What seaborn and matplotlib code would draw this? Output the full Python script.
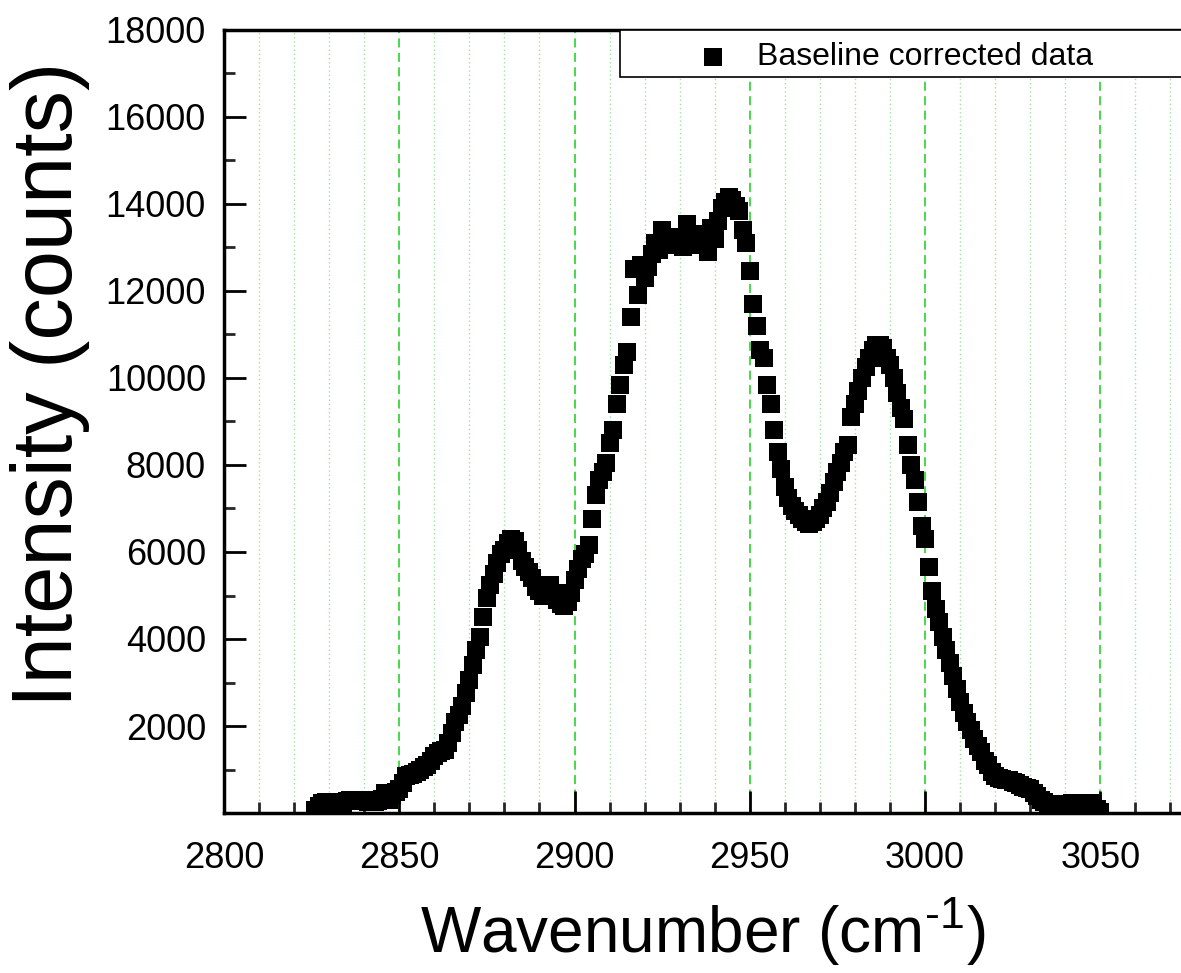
import numpy as np
import pandas as pd
import matplotlib
matplotlib.use("Agg")
import matplotlib.pyplot as plt
import seaborn as sns
from matplotlib.ticker import MultipleLocator, FuncFormatter
from matplotlib.patches import Rectangle

# spectrum, one point per cm-1 from 2826 to 3050
wavenumber = list(range(2826, 3051))
intensity = [
    80, 150, 230, 260, 250, 240, 200, 170, 220, 280,            # 2826
    290, 300, 280, 300, 290, 260, 300, 250, 280, 320,           # 2836
    450, 300, 420, 480, 550, 700, 850, 880, 900, 950,           # 2846
    1000, 1050, 1100, 1200, 1300, 1380, 1420, 1450, 1600, 1850, # 2856
    2100, 2250, 2450, 2750, 3050, 3400, 3750, 4050, 4500, 4950, # 2866
    5250, 5500, 5750, 5950, 6050, 6200, 6300, 6250, 6050, 5800, # 2876
    5650, 5550, 5400, 5200, 5100, 5000, 5150, 5250, 5050, 4900, # 2886
    4800, 4750, 4850, 5050, 5350, 5600, 5850, 5950, 6150, 6750, # 2896
    7300, 7650, 7850, 8050, 8500, 8800, 9400, 9850, 10300, 10600,        # 2906
    11400, 12500, 11900, 12600, 12300, 12550, 12850, 13100, 12950, 13400, # 2916
    13200, 13100, 13050, 13200, 13250, 13000, 13550, 13150, 13100, 13050, # 2926
    13300, 13050, 12900, 13450, 13200, 13600, 13900, 14050, 14150, 14100, # 2936
    13950, 13850, 13400, 13100, 12450, 11700, 11200, 10650, 10450, 9850,  # 2946
    9400, 8800, 8300, 7900, 7500, 7250, 7050, 6950, 6850, 6750, # 2956
    6700, 6650, 6700, 6750, 6850, 7000, 7150, 7350, 7600, 7850, # 2966
    8050, 8300, 8450, 9100, 9400, 9700, 10000, 10250, 10450, 10650,  # 2976
    10750, 10750, 10700, 10450, 10300, 10000, 9650, 9300, 9050, 8450, # 2986
    8000, 7650, 7150, 6600, 6300, 5650, 5100, 4700, 4400, 4050, # 2996
    3750, 3450, 3150, 2850, 2550, 2300, 2100, 1900, 1700, 1550, # 3006
    1400, 1200, 1100, 950, 850, 800, 780, 760, 750, 720,        # 3016
    700, 650, 600, 580, 560, 450, 380, 300, 250, 200,           # 3026
    200, 180, 150, 120, 150, 200, 220, 240, 230, 220,           # 3036
    240, 230, 200, 100, 30,                                     # 3046
]
legend_label = "Baseline corrected data"

sns.set_style("ticks")
plt.rcParams['font.family'] = ['Liberation Sans', 'DejaVu Sans']
plt.rcParams['mathtext.fontset'] = 'custom'
plt.rcParams['mathtext.rm'] = 'Liberation Sans'
plt.rcParams['mathtext.it'] = 'Liberation Sans:italic'
plt.rcParams['text.color'] = 'black'
plt.rcParams['axes.labelcolor'] = 'black'

df = pd.DataFrame({"wavenumber": wavenumber, "intensity": intensity})

W, H = 1181, 973
fig = plt.figure(figsize=(W / 100, H / 100), dpi=100)
ax = fig.add_axes([224 / W, 1 - 813 / H, 1 - 224 / W, (813 - 30) / H])

sns.scatterplot(data=df, x="wavenumber", y="intensity", marker="s", s=150,
                color="black", linewidth=0, label=legend_label, ax=ax, zorder=3)

ax.set_xlim(2800, 3073)
ax.set_ylim(0, 18000)
ax.xaxis.set_major_locator(MultipleLocator(50))
ax.xaxis.set_minor_locator(MultipleLocator(10))
ax.yaxis.set_major_locator(MultipleLocator(2000))
ax.yaxis.set_minor_locator(MultipleLocator(1000))
ax.yaxis.set_major_formatter(FuncFormatter(lambda v, p: "" if v == 0 else f"{int(v)}"))

# vertical grid only, dashed on major, dotted on minor
ax.set_axisbelow(True)
ax.grid(which="major", axis="x", color="#3ad43a", linestyle=(0, (5, 3)), linewidth=1.3)
ax.grid(which="minor", axis="x", color="#9de39d", linestyle=(0, (1, 2)), linewidth=1.0)
ax.grid(which="both", axis="y", visible=False)

ax.tick_params(which="major", direction="in", length=16, width=2, labelsize=26,
               colors="black", top=False, right=False)
ax.tick_params(which="minor", direction="in", length=8, width=2, top=False, right=False)
ax.tick_params(axis="x", which="major", pad=20)
ax.tick_params(axis="y", which="major", pad=13)

for side in ["left", "bottom", "top"]:
    ax.spines[side].set_linewidth(2.5)
    ax.spines[side].set_color("black")
ax.spines["right"].set_visible(False)

ax.set_xlabel(r"Wavenumber (cm$^{\text{-1}}$)", fontsize=46)
ax.set_ylabel("Intensity (counts)", fontsize=61)
ax.xaxis.set_label_coords(0.5, (813 - 896) / 783)
ax.yaxis.set_label_coords((90 - 224) / 957, (813 - 384) / 783)

# legend box runs off the right edge like the original
box = Rectangle((620 / W, 1 - 77 / H), 1.1 - 620 / W, 47 / H, transform=fig.transFigure,
                facecolor="white", edgecolor="black", linewidth=1.2, clip_on=False, zorder=4)
ax.add_patch(box)
leg = ax.legend(loc="upper left", bbox_to_anchor=((697 - 224) / 957, (813 - 42) / 783),
                frameon=False, fontsize=23, handlelength=1.0, handletextpad=0.875,
                borderpad=0, borderaxespad=0, markerscale=1)
leg.set_zorder(5)

fig.savefig("out.png", dpi=100)
